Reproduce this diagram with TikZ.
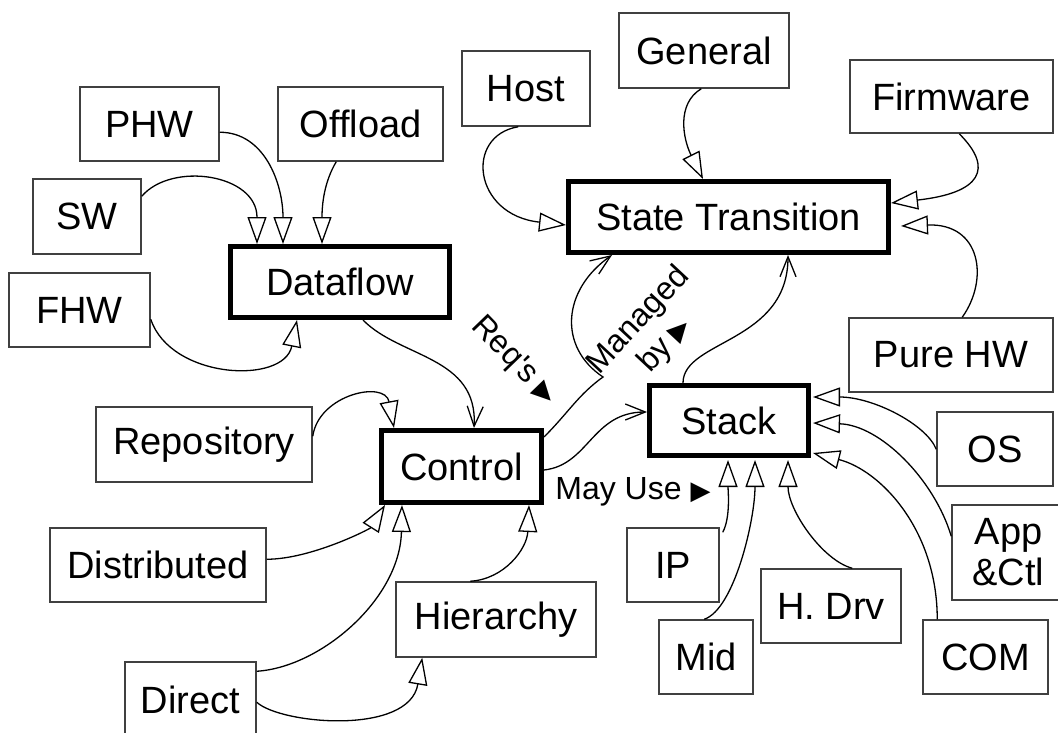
\documentclass[tikz,border=0pt]{standalone}
\usepackage{fontspec}
\setmainfont{Liberation Sans}
\newfontfamily\symfont{DejaVu Sans}
\usetikzlibrary{arrows.meta,calc}

\newcommand{\tri}{{\symfont\fontsize{26}{26}\selectfont ▶}}

\begin{document}
\begin{tikzpicture}[x=1pt,y=-1pt,
  box/.style={draw=black!75, line width=1.5pt, inner sep=0pt, align=center,
    font=\fontsize{38}{41}\selectfont},
  core/.style={box, draw=black, line width=5pt},
  isa/.style={line width=1.3pt, -{Triangle[open,length=27pt,width=19pt]}},
  uses/.style={line width=1.3pt, -{Straight Barb[length=20pt,width=16pt]}},
  lbl/.style={inner sep=0pt, align=center, font=\fontsize{32}{36}\selectfont}]

\useasboundingbox[fill=white] (0,0) rectangle (1058,733);

% dataflow cluster
\node[box, minimum width=139pt, minimum height=74pt] (phw) at (149.5,124) {PHW};
\node[box, minimum width=165pt, minimum height=74pt] (off) at (360.5,124) {Offload};
\node[box, minimum width=108pt, minimum height=75pt] (sw) at (87,216.5) {SW};
\node[box, minimum width=141pt, minimum height=74pt] (fhw) at (79.5,310) {FHW};
\node[core, minimum width=219pt, minimum height=71pt] (df) at (340,282) {Dataflow};

% state transition cluster
\node[box, minimum width=128pt, minimum height=75pt] (host) at (526,88.5) {Host};
\node[box, minimum width=170pt, minimum height=75pt] (gen) at (704,50.5) {General};
\node[box, minimum width=203pt, minimum height=73pt] (fw) at (951.5,96.5) {Firmware};
\node[core, minimum width=320pt, minimum height=71pt] (st) at (728.5,217) {State Transition};
\node[box, minimum width=204pt, minimum height=74pt] (phw2) at (951,355) {Pure HW};

% control cluster
\node[box, minimum width=216pt, minimum height=75pt] (repo) at (204,444.5) {Repository};
\node[core, minimum width=160pt, minimum height=72pt] (ctl) at (461.5,466.5) {Control};
\node[box, minimum width=216pt, minimum height=74pt] (dist) at (158,565) {Distributed};
\node[box, minimum width=200pt, minimum height=75pt] (hier) at (496,619.5) {Hierarchy};
\node[box, minimum width=131pt, minimum height=76pt] (dir) at (190.5,700) {Direct};

% stack cluster
\node[core, minimum width=159pt, minimum height=70pt] (stack) at (729,420.5) {Stack};
\node[box, minimum width=116pt, minimum height=74pt] (os) at (995,449) {OS};
\node[box, minimum width=113pt, minimum height=95pt] (app) at (1008.5,552.5) {App\\\&Ctl};
\node[box, minimum width=92pt, minimum height=74pt] (ip) at (673,565) {IP};
\node[box, minimum width=94pt, minimum height=74pt] (mid) at (706,657) {Mid};
\node[box, minimum width=140pt, minimum height=74pt] (hdrv) at (831,606) {H. Drv};
\node[box, minimum width=125pt, minimum height=74pt] (com) at (985.5,657) {COM};

% relation labels
\node[lbl, rotate=-46] (req) at (514,361) {Req\textquotesingle s\hspace{8pt}\tri};
\node[lbl, rotate=47] (mgd) at (652,333) {Managed\\by\hspace{8pt}\tri};
\node[lbl] (may) at (633,492) {May Use \tri};

% kinds of dataflow
\draw[isa] ($(sw.north east)+(0,18)$) .. controls +(30,-35) and +(0,-70) .. ($(df.north west)+(29,0)$);
\draw[isa] ($(phw.north east)+(0,46)$) .. controls +(45,0) and +(0,-60) .. ($(df.north west)+(55,0)$);
\draw[isa] ($(off.south west)+(59,0)$) .. controls +(-12,20) and +(0,-40) .. ($(df.north west)+(94,0)$);
\draw[isa] ($(fhw.north east)+(0,47)$) .. controls +(20,60) and +(-13,65) .. ($(df.south west)+(69,0)$);

% dataflow requires control
\draw[uses] ($(df.south west)+(135,0)$) .. controls +(37,38) and +(4,-72) .. ($(ctl.north west)+(95,0)$);

% kinds of control
\draw[isa] ($(repo.north east)+(0,30)$) .. controls +(6,-42) and +(-9,-48) .. ($(ctl.north west)+(15,0)$);
\draw[isa] ($(dist.north east)+(0,32)$) .. controls +(44,0) and +(-15,24) .. ($(ctl.south west)+(6,0)$);
\draw[isa] ($(dir.north east)+(0,10)$) .. controls +(64,-4) and +(-2,94) .. ($(ctl.south west)+(23,0)$);
\draw[isa] ($(hier.north west)+(75,0)$) .. controls +(34,-2) and +(-2,44) .. ($(ctl.south west)+(150,0)$);
\draw[isa] ($(dir.north east)+(0,41)$) .. controls +(24,22) and +(-13,78) .. ($(hier.south west)+(27,0)$);

% control is managed by state transition and may use the stack
\coordinate (kink) at ($(ctl.north east)+(59,-51)$);
\draw[uses] ($(ctl.north east)+(0,9)$) .. controls +(25,-25) and +(-25,18) .. (kink)
  .. controls +(-45,-30) and +(-50,35) .. ($(st.south west)+(46,0)$);
\draw[uses] ($(ctl.north east)+(0,42)$) .. controls +(45,-5) and +(-55,0) .. ($(stack.north west)+(0,29)$);
\draw[uses] ($(stack.north west)+(36,0)$) .. controls +(0,-43) and +(0,88) .. ($(st.south west)+(222,0)$);

% kinds of state transition
\draw[isa] ($(host.south west)+(57,0)$) .. controls +(-54,9) and +(-93,-10) .. ($(st.north west)+(0,46)$);
\draw[isa] ($(gen.south west)+(83,0)$) .. controls +(-25,15) and +(-20,-40) .. ($(st.north west)+(137,0)$);
\draw[isa] ($(fw.south west)+(110,0)$) .. controls +(35,35) and +(90,-10) .. ($(st.north east)+(0,24)$);
\draw[isa] ($(phw2.north west)+(114,0)$) .. controls +(27,-38) and +(80,-3) .. ($(st.north east)+(10,47)$);

% kinds of stack
\draw[isa] ($(os.north west)+(0,38)$) .. controls +(-10,-25) and +(60,0) .. ($(stack.north east)+(2,14)$);
\draw[isa] ($(app.north west)+(0,32)$) .. controls +(-17,-57) and +(67,2) .. ($(stack.north east)+(2,40)$);
\draw[isa] ($(com.north west)+(15,0)$) .. controls +(0,-90) and +(67,17) .. ($(stack.north east)+(2,70)$);
\draw[isa] ($(ip.north east)+(3,5)$) .. controls +(8,-15) and +(0,30) .. ($(stack.south west)+(81,2)$);
\draw[isa] ($(mid.north west)+(46,0)$) .. controls +(30,-10) and +(0,60) .. ($(stack.south west)+(108,2)$);
\draw[isa] ($(hdrv.north west)+(92,0)$) .. controls +(-30,-8) and +(0,50) .. ($(stack.south west)+(141,2)$);
\end{tikzpicture}
\end{document}
